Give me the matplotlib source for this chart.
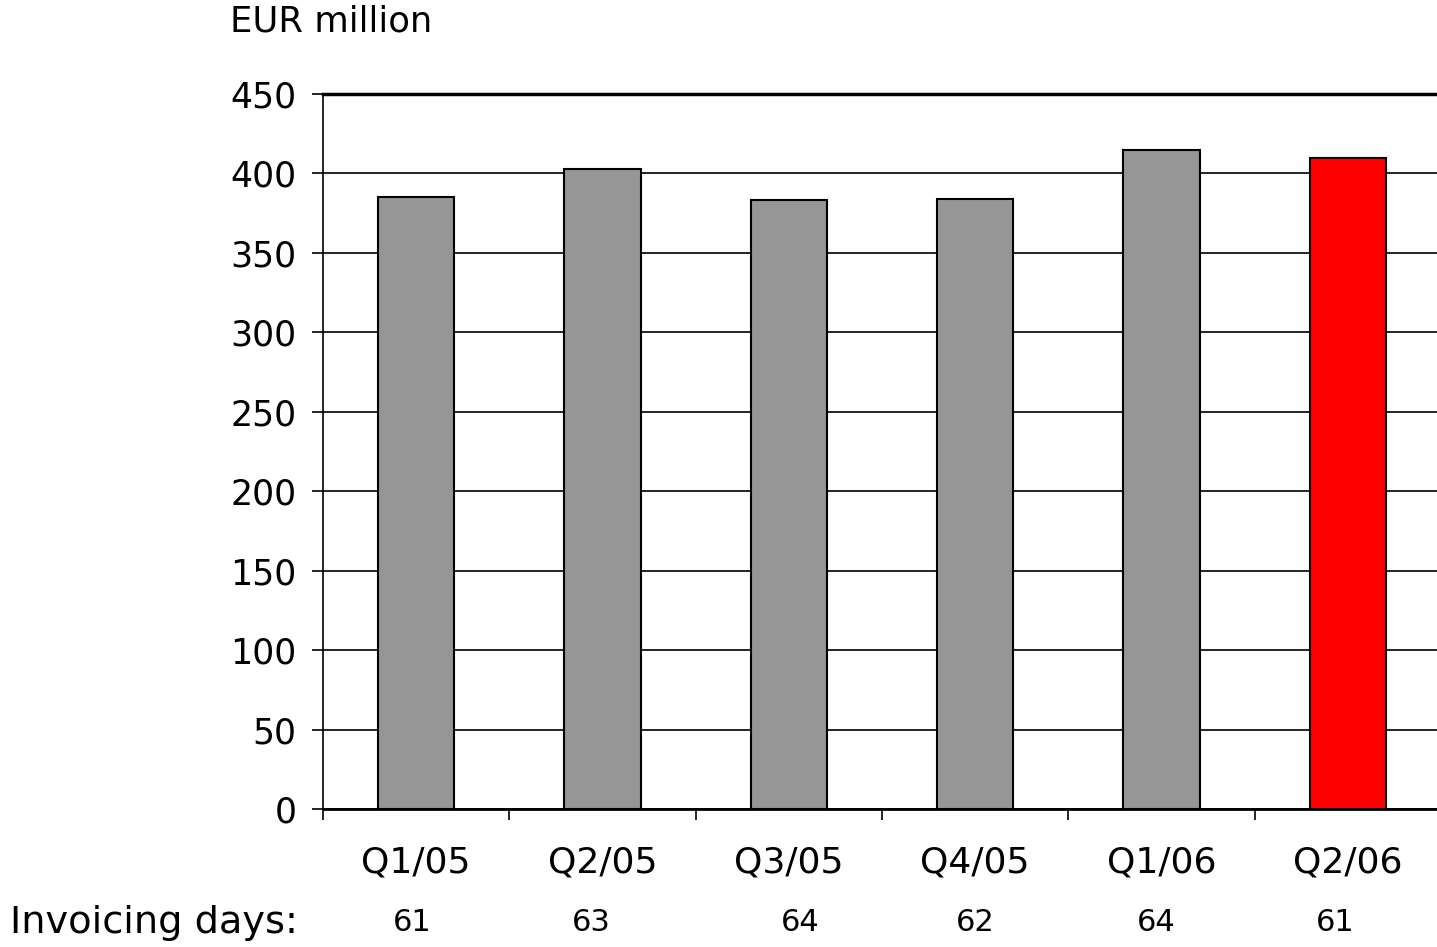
import matplotlib.pyplot as plt
import numpy as np

# Quarterly figures, EUR million
quarters = ['Q1/05', 'Q2/05', 'Q3/05', 'Q4/05', 'Q1/06', 'Q2/06']
values = [385, 403, 383, 384, 415, 410]
invoicing_days = [61, 63, 64, 62, 64, 61]
bar_colors = ['#969696'] * 5 + ['#ff0000']

# the day counts sit a little off the category centres
day_shift = [-0.02, -0.06, 0.06, 0.0, -0.03, -0.07]

fig = plt.figure(figsize=(14.37, 9.47), dpi=100)
ax = fig.add_axes([0.2248, 0.1457, 0.7780, 0.7550])

x = np.arange(len(quarters))
ax.bar(x, values, width=0.41, color=bar_colors, edgecolor='black', linewidth=1.5, zorder=3)

ax.set_xlim(-0.5, len(quarters) - 0.5)
ax.set_ylim(0, 450)
ax.set_yticks(range(0, 451, 50))
ax.yaxis.grid(True, color='black', linewidth=1.2, zorder=0)

# category boundaries get the tick marks, labels sit in the middle
ax.set_xticks(np.arange(len(quarters) + 1) - 0.5)
ax.set_xticklabels([])
ax.set_xticks(x, minor=True)
ax.set_xticklabels(quarters, minor=True)
ax.tick_params(axis='x', which='major', direction='out', length=8, width=1.2)
ax.tick_params(axis='x', which='minor', length=0, pad=26, labelsize=26)
ax.tick_params(axis='y', direction='out', length=8, width=1.2, pad=11, labelsize=25)

ax.spines['right'].set_visible(False)
ax.spines['top'].set_linewidth(2.5)
ax.spines['left'].set_linewidth(1.2)
ax.spines['bottom'].set_linewidth(2)

fig.text(230 / 1437, 1 - 22 / 947, 'EUR million', fontsize=25.5, va='center', ha='left')

# invoicing days row under the quarter labels
fig.text(10 / 1437, 1 - 923 / 947, 'Invoicing days:', fontsize=27.5, va='center', ha='left')
for xi, d, s in zip(x, invoicing_days, day_shift):
    ax.text(xi + s, -0.159, str(d), transform=ax.get_xaxis_transform(),
            fontsize=22, ha='center', va='center')

fig.savefig('out.png', dpi=100)
